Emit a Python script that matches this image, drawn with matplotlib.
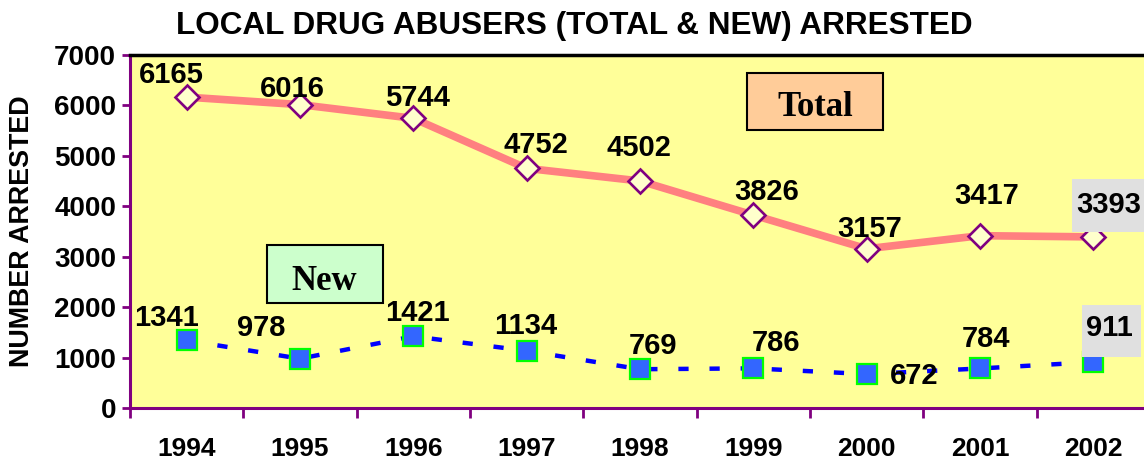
import matplotlib
matplotlib.use("Agg")
import matplotlib.pyplot as plt
from matplotlib.patches import Rectangle
import numpy as np

years = ["1994", "1995", "1996", "1997", "1998", "1999", "2000", "2001", "2002"]
total = [6165, 6016, 5744, 4752, 4502, 3826, 3157, 3417, 3393]
new = [1341, 978, 1421, 1134, 769, 786, 672, 784, 911]

total_off = [(-15, 24), (-8, 18), (4, 22), (9, 25), (-1, 35), (13, 25), (3, 22), (7, 42), (15, 34)]
new_off = [(-20, 24), (-39, 33), (4, 25), (-1, 27), (13, 25), (23, 27), (47, 0), (6, 31), (16, 36)]

W, H = 1144, 461
fig = plt.figure(figsize=(W / 100, H / 100), dpi=100)
plt.rcParams['font.family'] = ['Liberation Sans', 'DejaVu Sans']

ax = fig.add_axes([130 / W, (H - 408) / H, 1020 / W, 353 / H])
ax.set_facecolor('#FFFF99')

x = np.arange(len(years))
ax.plot(x, total, color='#FF8080', lw=5.5, zorder=3, solid_capstyle='butt')
ax.plot(x, total, ls='none', marker='D', ms=12, mfc='#FFFFCC', mec='#800080', mew=1.9, zorder=4)
ax.plot(x, new, color='#0000FF', lw=3.2, dashes=(2.3, 4.7), zorder=3)
ax.plot(x, new, ls='none', marker='s', ms=15, mfc='#3366FF', mec='#00FF00', mew=1.6, zorder=4)

ax.set_xlim(-0.5, 8.5)
ax.set_ylim(0, 7000)
ax.set_yticks(range(0, 7001, 1000))
ax.set_xticks(np.arange(-0.5, 9, 1))
ax.set_xticklabels([])
ax.tick_params(axis='y', direction='out', length=6, width=2, color='#800080',
               labelsize=20, pad=4)
ax.tick_params(axis='x', direction='out', length=7, width=2, color='#800080')
for lab in ax.get_yticklabels():
    lab.set_fontweight('bold')

for s in ['left', 'bottom']:
    ax.spines[s].set_color('#800080')
    ax.spines[s].set_linewidth(2.2)
ax.spines['top'].set_color('black')
ax.spines['top'].set_linewidth(2.5)
ax.spines['right'].set_visible(False)

# year labels under the axis
for i, y in enumerate(years):
    ax.text(i, -0.135, y, transform=ax.get_xaxis_transform(), ha='center', va='baseline',
            fontsize=19, fontweight='bold', clip_on=False)

def px(x0, y0, w, h):
    return (x0 / W, 1 - (y0 + h) / H), w / W, h / H

# grey backgrounds behind the last labels
for (x0, y0, w, h) in [(1072, 179, 80, 53), (1082, 305, 59, 52)]:
    xy, ww, hh = px(x0, y0, w, h)
    ax.add_artist(Rectangle(xy, ww, hh, transform=fig.transFigure, clip_on=False,
                            facecolor='#E0E0E0', edgecolor='none', zorder=5))

for vals, offs in [(total, total_off), (new, new_off)]:
    for i, (v, (dx, dy)) in enumerate(zip(vals, offs)):
        t = ax.annotate(str(v), (i, v), xytext=(dx, dy - 10), textcoords='offset pixels',
                        ha='center', va='baseline', fontsize=21, fontweight='bold',
                        annotation_clip=False)
        t.set_zorder(10)

# series name boxes
for (x0, y0, w, h, fc, txt, tx, ty) in [(747, 73, 136, 57, '#FFCC99', 'Total', 815, 116),
                                         (267, 245, 116, 58, '#CCFFCC', 'New', 324, 290)]:
    xy, ww, hh = px(x0, y0, w, h)
    ax.add_artist(Rectangle(xy, ww, hh, transform=fig.transFigure, clip_on=False,
                            facecolor=fc, edgecolor='black', lw=1.5, zorder=5))
    ax.text(tx / W, 1 - ty / H, txt, transform=fig.transFigure, ha='center', va='baseline',
            fontsize=25, fontweight='bold', family=['Liberation Serif', 'DejaVu Serif'],
            zorder=6)

fig.text(574 / W, 1 - 34 / H, "LOCAL DRUG ABUSERS (TOTAL & NEW) ARRESTED",
         ha='center', va='baseline', fontsize=22.7, fontweight='bold')
fig.text(22 / W, 1 - 231 / H, "NUMBER ARRESTED", rotation=90, ha='center', va='center',
         fontsize=19.4, fontweight='bold')

fig.savefig("out.png", dpi=100, facecolor='white')
